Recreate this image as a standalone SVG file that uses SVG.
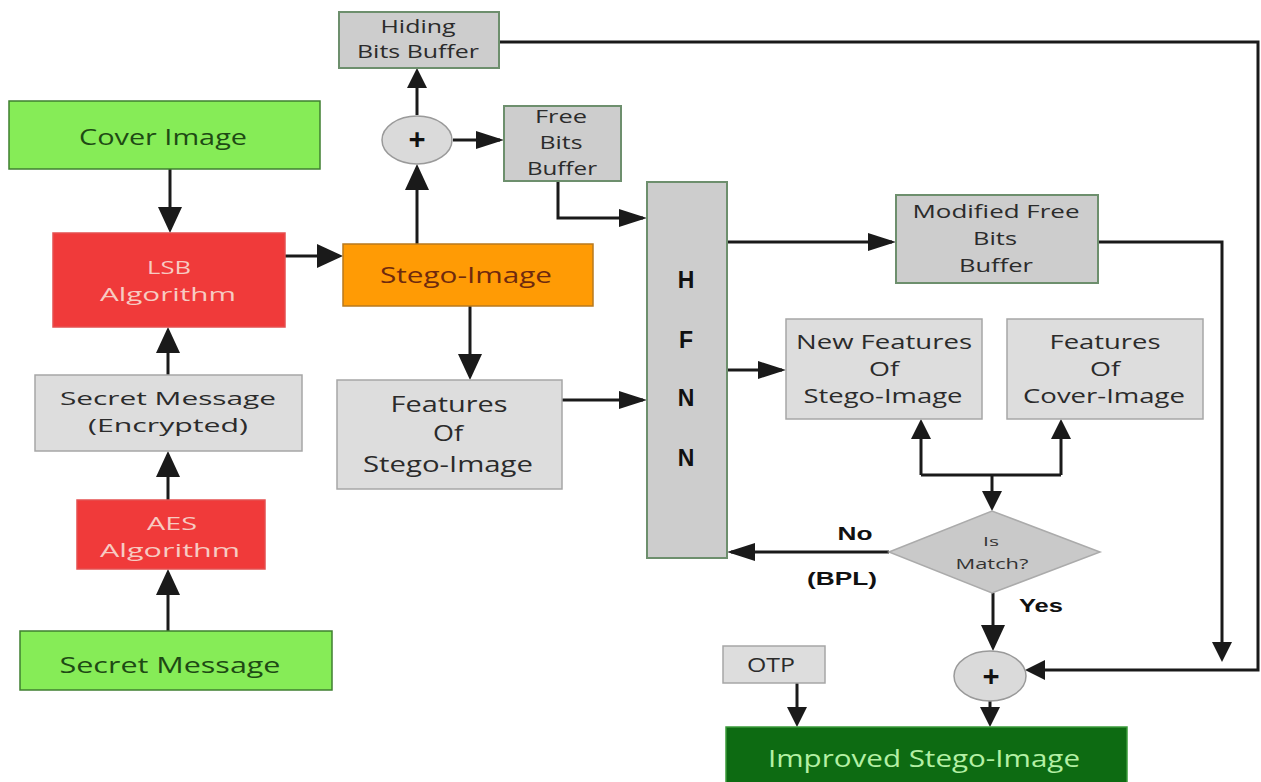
<svg xmlns="http://www.w3.org/2000/svg" width="1261" height="782" viewBox="0 0 1261 782">
<style>
text{font-family:"Open Sans","Liberation Sans",sans-serif;text-anchor:middle}
.t{font-size:22px;fill:#2b2b2b}
.t2{font-size:19px;fill:#2b2b2b}
.s{font-size:18px;fill:#2b2b2b}
.m{font-size:19.5px;fill:#2b2b2b}
.dg{fill:#1e4a14}
.pk{fill:#f7cbc2}
.b{font-weight:bold;fill:#111;font-family:"Liberation Sans",Arial,sans-serif}
.green{fill:#86ec57;stroke:#3f7f30;stroke-width:1.5}
.red{fill:#f03a3a;stroke:#e55050;stroke-width:1.5}
.gray{fill:#dddddd;stroke:#a6a6a6;stroke-width:1.5}
.buf{fill:#cdcdcd;stroke:#6d8f6d;stroke-width:2}
.orange{fill:#ff9b05;stroke:#b97a1e;stroke-width:1.5}
.dark{fill:#0d6b12;stroke:#3a9a3a;stroke-width:1.5}
.ell{fill:#dadada;stroke:#9a9a9a;stroke-width:1.5}
.dia{fill:#c9c9c9;stroke:#ababab;stroke-width:1.5}
.c path{fill:none;stroke:#1a1a1a;stroke-width:3}
</style>
<defs>
<marker id="ah" markerUnits="userSpaceOnUse" markerWidth="30" markerHeight="26" refX="22" refY="12" orient="auto"><path d="M0,0 L26,12 L0,24 z" fill="#1a1a1a"/></marker>
<marker id="am" markerUnits="userSpaceOnUse" markerWidth="32" markerHeight="20" refX="24" refY="9" orient="auto"><path d="M0,0 L28,9 L0,18 z" fill="#1a1a1a"/></marker>
<marker id="as" markerUnits="userSpaceOnUse" markerWidth="24" markerHeight="22" refX="16" refY="10" orient="auto"><path d="M0,0 L20,10 L0,20 z" fill="#1a1a1a"/></marker>
</defs>
<rect width="1261" height="782" fill="#ffffff"/>

<g class="c" id="connectors">
<path d="M170,169 V229" marker-end="url(#ah)"/>
<path d="M285,256 H339" marker-end="url(#ah)"/>
<path d="M168,375 V331" marker-end="url(#ah)"/>
<path d="M168,500 V455" marker-end="url(#ah)"/>
<path d="M168,631 V573" marker-end="url(#ah)"/>
<path d="M417,244 V168" marker-end="url(#ah)"/>
<path d="M417,115 V72" marker-end="url(#as)"/>
<path d="M453,140 H500" marker-end="url(#am)"/>
<path d="M558,181 V218 H643" marker-end="url(#am)"/>
<path d="M470,306 V376" marker-end="url(#ah)"/>
<path d="M562,400 H643" marker-end="url(#am)"/>
<path d="M727,242 H892" marker-end="url(#am)"/>
<path d="M727,370 H782" marker-end="url(#am)"/>
<path d="M1098,242 H1222 V658" marker-end="url(#as)"/>
<path d="M499,42 H1258 V670 H1029" marker-end="url(#as)"/>
<path d="M921,475 H1061"/>
<path d="M921,475 V423" marker-end="url(#as)"/>
<path d="M1061,475 V423" marker-end="url(#as)"/>
<path d="M992,475 V507" marker-end="url(#as)"/>
<path d="M889,552 H731" marker-end="url(#am)"/>
<path d="M993,593 V647" marker-end="url(#ah)"/>
<path d="M990,701 V723" marker-end="url(#as)"/>
<path d="M797,683 V723" marker-end="url(#as)"/>
</g>

<g id="cover-image">
<rect class="green" x="9" y="101" width="311" height="68"/>
<text class="t dg" x="163" y="145" textLength="168" lengthAdjust="spacingAndGlyphs">Cover Image</text>
</g>
<g id="lsb">
<rect class="red" x="53" y="233" width="232" height="94"/>
<text class="t2 pk" x="169" y="274" textLength="44" lengthAdjust="spacingAndGlyphs">LSB</text>
<text class="t2 pk" x="168" y="301" textLength="136" lengthAdjust="spacingAndGlyphs">Algorithm</text>
</g>
<g id="secret-encrypted">
<rect class="gray" x="35" y="375" width="267" height="76"/>
<text class="t2" x="168" y="405" textLength="216" lengthAdjust="spacingAndGlyphs">Secret Message</text>
<text class="t2" x="168" y="432" textLength="160" lengthAdjust="spacingAndGlyphs">(Encrypted)</text>
</g>
<g id="aes">
<rect class="red" x="77" y="500" width="188" height="69"/>
<text class="t2 pk" x="172" y="530" textLength="50" lengthAdjust="spacingAndGlyphs">AES</text>
<text class="t2 pk" x="170" y="557" textLength="140" lengthAdjust="spacingAndGlyphs">Algorithm</text>
</g>
<g id="secret-message">
<rect class="green" x="20" y="631" width="312" height="59"/>
<text class="t dg" x="170" y="673" textLength="221" lengthAdjust="spacingAndGlyphs">Secret Message</text>
</g>
<g id="stego-image">
<rect class="orange" x="343" y="244" width="250" height="62"/>
<text class="t" style="fill:#6e2a0e" x="466" y="283" textLength="172" lengthAdjust="spacingAndGlyphs">Stego-Image</text>
</g>
<g id="features-stego">
<rect class="gray" x="337" y="380" width="225" height="109"/>
<text class="t" x="449" y="412" textLength="117" lengthAdjust="spacingAndGlyphs">Features</text>
<text class="t" x="448" y="441" textLength="30" lengthAdjust="spacingAndGlyphs">Of</text>
<text class="t" x="448" y="472" textLength="170" lengthAdjust="spacingAndGlyphs">Stego-Image</text>
</g>
<g id="plus-top">
<ellipse class="ell" cx="417" cy="140" rx="35" ry="24"/>
<text style="font-size:30px;font-weight:bold;fill:#111" x="417" y="150">+</text>
</g>
<g id="hiding-buffer">
<rect class="buf" x="339" y="12" width="160" height="56"/>
<text class="s" x="418" y="33" textLength="75" lengthAdjust="spacingAndGlyphs">Hiding</text>
<text class="s" x="418" y="58" textLength="122" lengthAdjust="spacingAndGlyphs">Bits Buffer</text>
</g>
<g id="free-buffer">
<rect class="buf" x="504" y="106" width="117" height="75"/>
<text class="s" x="561" y="123" textLength="52" lengthAdjust="spacingAndGlyphs">Free</text>
<text class="s" x="561" y="149" textLength="43" lengthAdjust="spacingAndGlyphs">Bits</text>
<text class="s" x="562" y="175" textLength="70" lengthAdjust="spacingAndGlyphs">Buffer</text>
</g>
<g id="hfnn">
<rect class="buf" x="647" y="182" width="80" height="376"/>
<text class="b" style="font-size:23px" x="686" y="288">H</text>
<text class="b" style="font-size:23px" x="686" y="348">F</text>
<text class="b" style="font-size:23px" x="686" y="406">N</text>
<text class="b" style="font-size:23px" x="686" y="466">N</text>
</g>
<g id="modified-buffer">
<rect class="buf" x="896" y="195" width="202" height="88"/>
<text class="s" x="996" y="218" textLength="167" lengthAdjust="spacingAndGlyphs">Modified Free</text>
<text class="s" x="995" y="245" textLength="44" lengthAdjust="spacingAndGlyphs">Bits</text>
<text class="s" x="996" y="272" textLength="74" lengthAdjust="spacingAndGlyphs">Buffer</text>
</g>
<g id="new-features">
<rect class="gray" x="786" y="319" width="196" height="100"/>
<text class="m" x="884" y="349" textLength="176" lengthAdjust="spacingAndGlyphs">New Features</text>
<text class="m" x="884" y="376" textLength="30" lengthAdjust="spacingAndGlyphs">Of</text>
<text class="m" x="883" y="403" textLength="159" lengthAdjust="spacingAndGlyphs">Stego-Image</text>
</g>
<g id="features-cover">
<rect class="gray" x="1007" y="319" width="196" height="100"/>
<text class="m" x="1105" y="349" textLength="111" lengthAdjust="spacingAndGlyphs">Features</text>
<text class="m" x="1105" y="376" textLength="30" lengthAdjust="spacingAndGlyphs">Of</text>
<text class="m" x="1104" y="403" textLength="162" lengthAdjust="spacingAndGlyphs">Cover-Image</text>
</g>
<g id="is-match">
<polygon class="dia" points="889,552 992,511 1100,552 992,593"/>
<text style="font-size:13px;fill:#333" x="991" y="546" textLength="16" lengthAdjust="spacingAndGlyphs">Is</text>
<text style="font-size:15px;fill:#333" x="992" y="569" textLength="73" lengthAdjust="spacingAndGlyphs">Match?</text>
</g>
<g id="labels">
<text class="b" style="font-size:19px" x="855" y="540" textLength="35" lengthAdjust="spacingAndGlyphs">No</text>
<text class="b" style="font-size:19px" x="842" y="585" textLength="70" lengthAdjust="spacingAndGlyphs">(BPL)</text>
<text class="b" style="font-size:18px" x="1041" y="612" textLength="44" lengthAdjust="spacingAndGlyphs">Yes</text>
</g>
<g id="plus-bottom">
<ellipse class="ell" cx="990" cy="676" rx="36" ry="25"/>
<text style="font-size:30px;font-weight:bold;fill:#111" x="991" y="687">+</text>
</g>
<g id="otp">
<rect class="gray" x="723" y="646" width="102" height="37"/>
<text class="m" x="771" y="672" textLength="48" lengthAdjust="spacingAndGlyphs">OTP</text>
</g>
<g id="improved">
<rect class="dark" x="726" y="727" width="401" height="62"/>
<text class="t" style="fill:#b4f0a4;font-size:23px" x="924" y="767" textLength="312" lengthAdjust="spacingAndGlyphs">Improved Stego-Image</text>
</g>
</svg>
